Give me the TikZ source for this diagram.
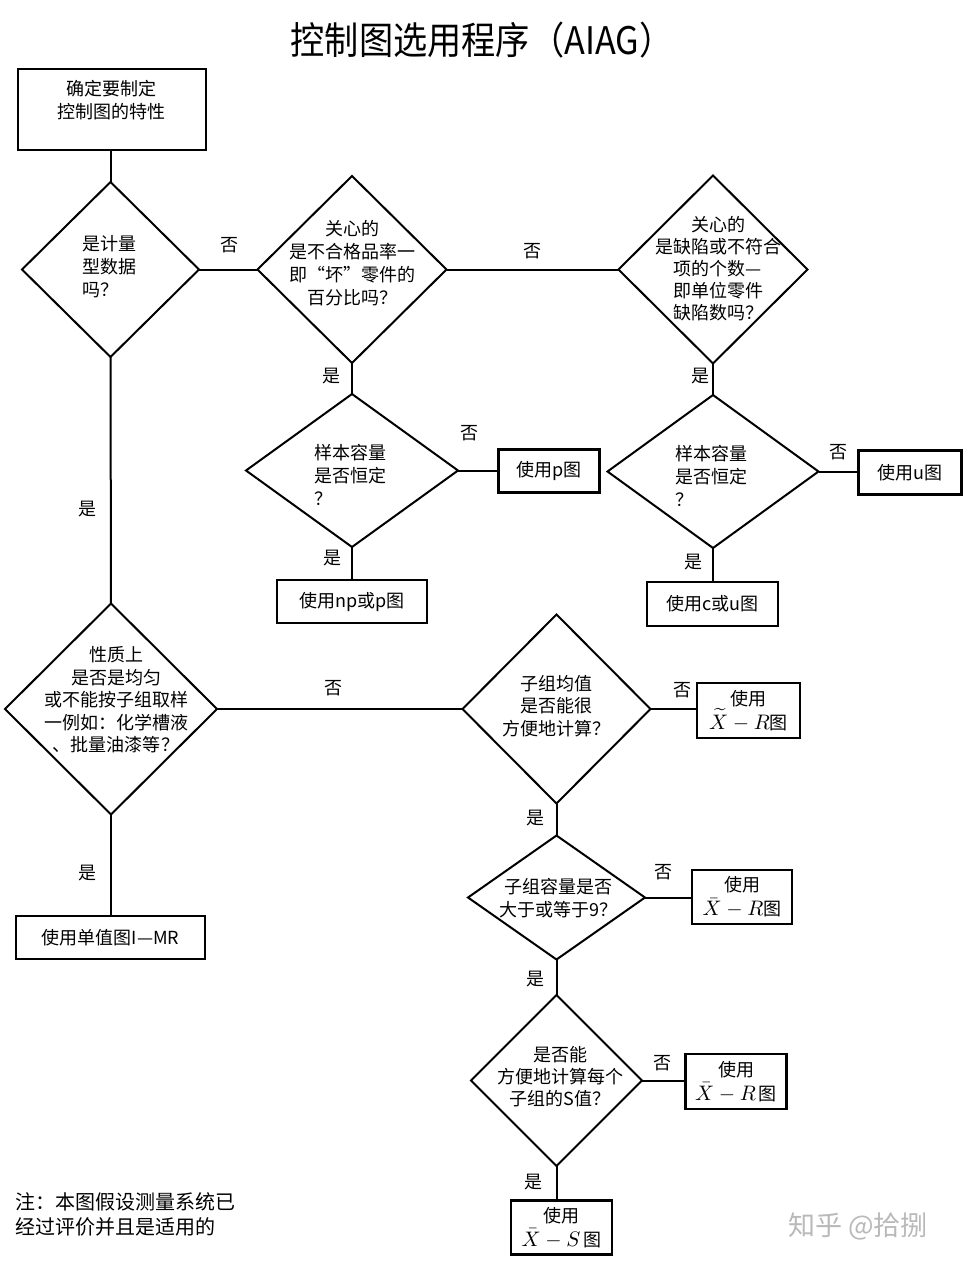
\documentclass[tikz,border=0pt]{standalone}
\usepackage{fontspec}
\usepackage{graphicx}
\setmainfont{Noto Sans CJK SC}
\usetikzlibrary{shapes.geometric}
\tikzset{
  dia/.style={draw, shape=diamond, line width=2pt, inner sep=0pt, outer sep=0pt},
  box/.style={draw, rectangle, line width=2.5pt, inner sep=0pt, outer sep=0pt, align=center},
  txt/.style={inner sep=0pt, align=center},
  ltxt/.style={inner sep=0pt, align=left, anchor=west},
  lbl/.style={inner sep=0pt},
  conn/.style={line width=2pt},
  every node/.style={font=\fontsize{18}{23}\selectfont},
}
\newcommand{\mxr}[2]{{\fontsize{10}{12}\selectfont\scalebox{2.1}{$#1-#2$}}}
\begin{document}
\begin{tikzpicture}[x=1pt,y=-1pt]
\useasboundingbox (0,0) rectangle (966,1264);
\fill[white] (0,0) rectangle (966,1264);

% title
\node[lbl, font=\fontsize{38}{40}\selectfont] (title) at (482,40) {\scalebox{0.9}[1]{控制图选用程序（AIAG）}};

% start box
\node[box, minimum width=188pt, minimum height=81pt] (b1) at (112,109.5) {};
\node[txt] (b1t) at (111,100) {确定要制定\\控制图的特性};

% diamonds
\node[dia, minimum width=177pt, minimum height=175pt] (d1) at (110.5,269.5) {};
\node[ltxt] (d1t) at (82,267) {是计量\\型数据\\吗？};

\node[dia, minimum width=189pt, minimum height=187pt] (d2) at (352,269.5) {};
\node[txt] (d2t) at (352,263) {关心的\\是不合格品率一\\即“坏”零件的\\百分比吗？};

\node[dia, minimum width=189pt, minimum height=188pt] (d3) at (713,269.5) {};
\node[txt, font=\fontsize{18}{22}\selectfont] (d3t) at (718,269) {关心的\\是缺陷或不符合\\项的个数—\\即单位零件\\缺陷数吗？};

\node[dia, minimum width=212pt, minimum height=153pt] (d4) at (352,470.5) {};
\node[ltxt] (d4t) at (314,475) {样本容量\\是否恒定\\？};

\node[dia, minimum width=211pt, minimum height=153pt] (d5) at (713,471.5) {};
\node[ltxt] (d5t) at (675,476) {样本容量\\是否恒定\\？};

\node[dia, minimum width=212pt, minimum height=211pt] (d6) at (111,709) {};
\node[txt, font=\fontsize{18}{22.5}\selectfont] (d6t) at (116,700) {性质上\\是否是均匀\\或不能按子组取样\\一例如：化学槽液\\、批量油漆等？};

\node[dia, minimum width=188pt, minimum height=189pt] (d7) at (556.5,709) {};
\node[txt, font=\fontsize{18}{22.5}\selectfont] (d7t) at (556,706) {子组均值\\是否能很\\方便地计算？};

\node[dia, minimum width=177pt, minimum height=124pt] (d8) at (556.5,897.5) {};
\node[txt, font=\fontsize{18}{22.5}\selectfont] (d8t) at (558,898) {子组容量是否\\大于或等于9？};

\node[dia, minimum width=171pt, minimum height=171pt] (d9) at (556.5,1080.5) {};
\node[txt, font=\fontsize{18}{22}\selectfont] (d9t) at (560,1077) {是否能\\方便地计算每个\\子组的S值？};

% result boxes
\node[box, minimum width=101pt, minimum height=43pt] (bp) at (549,471) {使用p图};
\node[box, minimum width=150pt, minimum height=43pt] (bnp) at (352,601.5) {使用np或p图};
\node[box, minimum width=103pt, minimum height=44pt] (bu) at (910,472.5) {使用u图};
\node[box, minimum width=131pt, minimum height=44pt] (bcu) at (712.5,604) {使用c或u图};
\node[box, minimum width=189pt, minimum height=43pt] (bimr) at (110.5,937.5) {使用单值图I—MR};
\node[box, minimum width=103pt, minimum height=55pt, font=\fontsize{18}{24}\selectfont] (bxt) at (748.5,710.5) {使用\\\mxr{\widetilde{X}}{R}图};
\node[box, minimum width=100pt, minimum height=54pt, font=\fontsize{18}{24}\selectfont] (bxr1) at (742,897) {使用\\\mxr{\bar{X}}{R}图};
\node[box, minimum width=101pt, minimum height=55pt, font=\fontsize{18}{24}\selectfont] (bxr2) at (736,1081.5) {使用\\\mxr{\bar{X}}{R}\,图};
\node[box, minimum width=101pt, minimum height=54pt, font=\fontsize{18}{24}\selectfont] (bxs) at (561.5,1227.5) {使用\\\mxr{\bar{X}}{S}\,图};

% connectors
\draw[conn] (b1.south -| d1.north) -- (d1.north);
\draw[conn] (d1.east) -- (d2.west);
\draw[conn] (d2.east) -- (d3.west);
\draw[conn] (d2.south) -- (d4.north);
\draw[conn] (d3.south) -- (d5.north);
\draw[conn] (d4.east) -- (d4.east -| bp.west);
\draw[conn] (d4.south) -- (d4.south |- bnp.north);
\draw[conn] (d5.east) -- (d5.east -| bu.west);
\draw[conn] (d5.south) -- (d5.south |- bcu.north);
\draw[conn] (d1.south) -- (d6.north);
\draw[conn] (d6.south) -- (d6.south |- bimr.north);
\draw[conn] (d6.east) -- (d7.west);
\draw[conn] (d7.east) -- (d7.east -| bxt.west);
\draw[conn] (d7.south) -- (d8.north);
\draw[conn] (d8.east) -- (d8.east -| bxr1.west);
\draw[conn] (d8.south) -- (d9.north);
\draw[conn] (d9.east) -- (d9.east -| bxr2.west);
\draw[conn] (d9.south) -- (d9.south |- bxs.north);

% labels
\node[lbl] (l1) at (229,245) {否};
\node[lbl] (l2) at (532,251) {否};
\node[lbl] (l3) at (331,376) {是};
\node[lbl] (l4) at (700,376) {是};
\node[lbl] (l5) at (469,433) {否};
\node[lbl] (l6) at (332,558) {是};
\node[lbl] (l7) at (838,452) {否};
\node[lbl] (l8) at (693,562) {是};
\node[lbl] (l9) at (87,509) {是};
\node[lbl] (l10) at (333,688) {否};
\node[lbl] (l11) at (87,873) {是};
\node[lbl] (l12) at (682,690) {否};
\node[lbl] (l13) at (535,818) {是};
\node[lbl] (l14) at (663,872) {否};
\node[lbl] (l15) at (535,979) {是};
\node[lbl] (l16) at (662,1063) {否};
\node[lbl] (l17) at (533,1182) {是};

% note
\node[inner sep=0pt, align=left, anchor=west, font=\fontsize{20}{25}\selectfont] (note) at (15,1214.5) {注：本图假设测量系统已\\经过评价并且是适用的};

% watermark
\node[inner sep=0pt, anchor=west, text=gray!55, font=\fontsize{27}{30}\selectfont] (wm) at (788,1226) {知乎 @拾捌};
\end{tikzpicture}
\end{document}
